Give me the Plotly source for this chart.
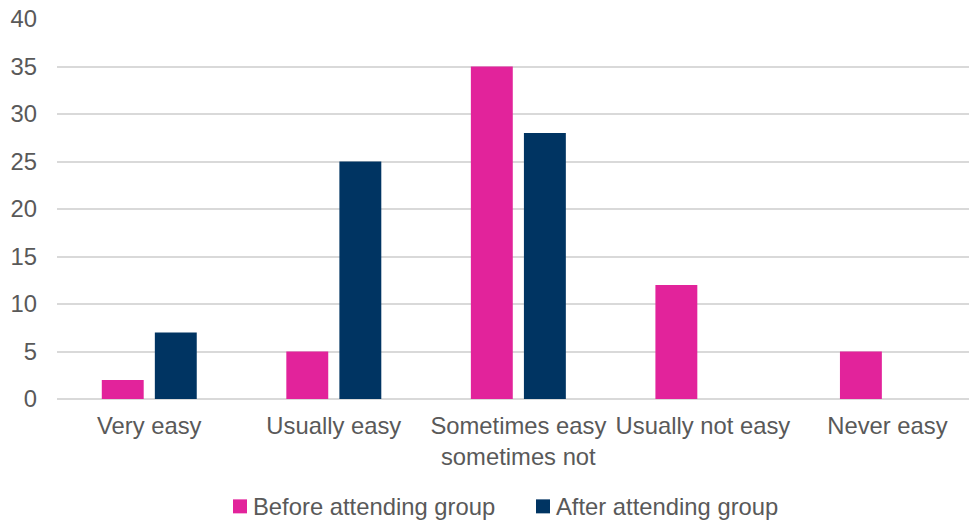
import plotly.graph_objects as go

# Survey responses: how easy is it, before vs after attending the group
categories = ["Very easy", "Usually easy", "Sometimes easy<br>sometimes not",
              "Usually not easy", "Never easy"]
before_group = [2, 5, 35, 12, 5]
after_group = [7, 25, 28, 0, 0]
y_ticks = [0, 5, 10, 15, 20, 25, 30, 35, 40]
series_names = ["Before attending group", "After attending group"]

PINK = "#E2239B"
NAVY = "#003462"
TEXT = "#595959"
GRID = "#D9D9D9"
FONT = "Liberation Sans, Arial, sans-serif"
FS = 23.8

W, H = 969, 522
ML, MR, MT, MB = 57, 0, 19, 122.5
PW, PH = W - ML - MR, H - MT - MB


def px_to_paper(px, py):
    return (px - ML) / PW, (H - MB - py) / PH


fig = go.Figure()
for name, vals, col in zip(series_names, [before_group, after_group], [PINK, NAVY]):
    fig.add_trace(go.Bar(name=name, x=categories, y=vals, showlegend=False,
                         marker=dict(color=col, line=dict(width=0))))

# Legend: colour swatch followed by the series name, centred below the axis
legend_items = [(233, series_names[0], PINK), (536, series_names[1], NAVY)]
cy = 507
for sx, name, col in legend_items:
    x0, y0 = px_to_paper(sx, cy + 7)
    x1, y1 = px_to_paper(sx + 14, cy - 7)
    fig.add_shape(type="rect", xref="paper", yref="paper", x0=x0, x1=x1, y0=y0, y1=y1,
                  fillcolor=col, line=dict(width=0))
    tx, ty = px_to_paper(sx + 18, cy)
    fig.add_annotation(xref="paper", yref="paper", x=tx, y=ty, text=name,
                       showarrow=False, xanchor="left", yanchor="middle",
                       font=dict(family=FONT, size=FS, color=TEXT))

fig.update_layout(
    width=W, height=H,
    margin=dict(l=ML, r=MR, t=MT, b=MB, pad=0),
    paper_bgcolor="white", plot_bgcolor="white",
    barmode="group", bargap=0.425, bargroupgap=0.21,
    font=dict(family=FONT, size=FS, color=TEXT),
    showlegend=False,
)
fig.update_xaxes(
    type="category", range=[-0.5, 4.442],
    showgrid=False, showline=False, zeroline=False, ticks="",
    tickfont=dict(family=FONT, size=FS, color=TEXT),
    ticklabelstandoff=10,
)
fig.update_yaxes(
    range=[0, 40], tickvals=y_ticks, ticktext=[str(v) for v in y_ticks],
    showgrid=True, gridcolor=GRID, gridwidth=1.5,
    zeroline=True, zerolinecolor=GRID, zerolinewidth=1.5,
    showline=False, ticks="",
    tickfont=dict(family=FONT, size=FS, color=TEXT),
    ticklabelstandoff=19,
)

fig.write_html("out.html")
